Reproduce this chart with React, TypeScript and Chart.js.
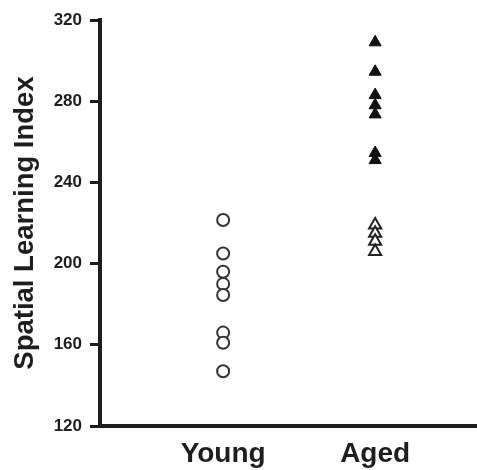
import React, { useEffect, useRef } from "react";
import { Chart, registerables } from "chart.js";

Chart.register(...registerables);

const categories = ["Young", "Aged"];
const youngValues = [221.5, 205, 196, 190, 184.5, 166, 161, 147];
const agedFilledValues = [309, 294.5, 283, 278, 273.5, 254.5, 251];
const agedOpenValues = [219, 215, 211, 206];
const yTicks = [120, 160, 200, 240, 280, 320];

const INK = "#1e1e1e";
const FONT = "'Liberation Sans', Arial, sans-serif";

export default function App() {
  const ref = useRef<HTMLCanvasElement | null>(null);

  useEffect(() => {
    if (!ref.current) return;
    const chart = new Chart(ref.current, {
      type: "scatter",
      data: {
        datasets: [
          {
            label: "Young",
            data: youngValues.map((v) => ({ x: 1, y: v })),
            pointStyle: "circle",
            pointRadius: 6,
            borderWidth: 2,
            borderColor: "#333",
            backgroundColor: "#fff",
          },
          {
            label: "Aged (filled)",
            data: agedFilledValues.map((v) => ({ x: 2, y: v })),
            pointStyle: "triangle",
            pointRadius: 7,
            borderWidth: 1,
            borderColor: "#111",
            backgroundColor: "#111",
          },
          {
            label: "Aged (open)",
            data: agedOpenValues.map((v) => ({ x: 2, y: v })),
            pointStyle: "triangle",
            pointRadius: 7,
            borderWidth: 2,
            borderColor: "#222",
            backgroundColor: "#fff",
          },
        ],
      },
      options: {
        animation: false,
        responsive: false,
        maintainAspectRatio: false,
        layout: { autoPadding: false, padding: { top: 20, right: 0, bottom: 0, left: 0 } },
        plugins: { legend: { display: false }, tooltip: { enabled: false } },
        scales: {
          x: {
            type: "linear",
            min: 0.19,
            max: 2.67,
            afterBuildTicks: (scale: any) => {
              scale.ticks = categories.map((_, i) => ({ value: i + 1 }));
            },
            afterFit: (scale: any) => {
              scale.height = 44;
            },
            ticks: {
              callback: (v: any) => categories[Number(v) - 1] ?? "",
              color: INK,
              font: { family: FONT, size: 28, weight: "bold" },
              padding: 11,
              maxRotation: 0,
              autoSkip: false,
            },
            grid: { display: false, drawTicks: false },
            border: { display: true, color: INK, width: 4 },
          },
          y: {
            type: "linear",
            min: 120,
            max: 320,
            afterBuildTicks: (scale: any) => {
              scale.ticks = yTicks.map((v) => ({ value: v }));
            },
            afterFit: (scale: any) => {
              scale.width = 100;
            },
            ticks: {
              color: INK,
              font: { family: FONT, size: 17, weight: "bold" },
              padding: 8,
            },
            grid: {
              drawOnChartArea: false,
              drawTicks: true,
              tickLength: 10,
              tickWidth: 3,
              color: INK,
            },
            border: { display: true, color: INK, width: 4 },
            title: {
              display: true,
              text: "Spatial Learning Index",
              color: INK,
              font: { family: FONT, size: 27.5, weight: "bold" },
              padding: { top: 9, bottom: 0 },
            },
          },
        },
      },
    });
    return () => chart.destroy();
  }, []);

  return (
    <div style={{ position: "fixed", left: 0, top: 0, width: 477, height: 470, background: "#fff" }}>
      <canvas ref={ref} width={477} height={470} style={{ display: "block" }} />
    </div>
  );
}
